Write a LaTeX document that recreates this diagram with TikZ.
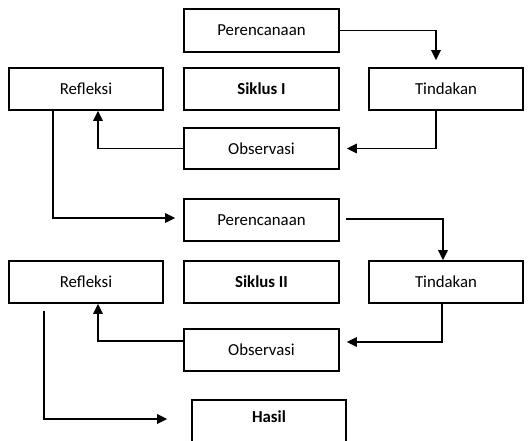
\documentclass[tikz,border=0pt]{standalone}
\usepackage{fontspec}
\setmainfont{Carlito}
\usetikzlibrary{arrows.meta}

\tikzset{
  box/.style={draw, line width=1.6pt, minimum width=155pt, minimum height=42pt, inner sep=0pt, font=\fontsize{16.8}{20}\selectfont},
  arr/.style={line width=1.6pt, -{Triangle[length=10pt,width=9.5pt]}}
}

\begin{document}
\begin{tikzpicture}[x=1pt, y=-1pt]
            \useasboundingbox (0,0) rectangle (532,440);
            \clip (0,0) rectangle (532,440);
            % siklus I
            \node[box, minimum height=43pt] (per1) at (261.5,30.5) {Perencanaan};
            \node[box, minimum width=154pt] (ref1) at (86,89) {Refleksi};
            \node[box] (sik1) at (261.5,89) {\textbf{Siklus I}};
            \node[box, minimum width=154pt] (tin1) at (446,89) {Tindakan};
            \node[box, minimum height=41pt] (obs1) at (261.5,148.5) {Observasi};
            \node[box] (per2) at (261.5,220) {Perencanaan};
            \draw[arr] (per1.east) -| ([xshift=-10pt,yshift=7pt]tin1.north);
            \draw[arr] ([xshift=-10pt]tin1.south) |- ([xshift=7pt]obs1.east);
            \draw[arr] (obs1.west) -| ([xshift=12pt]ref1.south);
            \draw[arr] ([xshift=-33pt]ref1.south) |- ([xshift=-8pt,yshift=2pt]per2.west);
            % siklus II
            \node[box, minimum width=154pt] (ref2) at (86,282) {Refleksi};
            \node[box] (sik2) at (261.5,282) {\textbf{Siklus II}};
            \node[box, minimum width=154pt] (tin2) at (446,282) {Tindakan};
            \node[box] (obs2) at (261.5,350) {Observasi};
            \draw[arr] ([xshift=6pt,yshift=1pt]per2.east) -| ([xshift=-3pt]tin2.north);
            \draw[arr] ([xshift=-4pt]tin2.south) |- ([xshift=7pt,yshift=8pt]obs2.east);
            \draw[arr] ([yshift=9pt]obs2.west) -| ([xshift=12pt]ref2.south);
            % hasil
            \node[box, minimum width=154pt, minimum height=62pt, anchor=north] (hasil) at (269,399) {};
            \node[font=\fontsize{16.8}{20}\selectfont] (hasiltext) at (269,417) {\textbf{Hasil}};
            \draw[arr] ([xshift=-42pt,yshift=-7pt]ref2.south) |- ([xshift=-24pt,yshift=-20pt]hasil.north west);
        \end{tikzpicture}
\end{document}
